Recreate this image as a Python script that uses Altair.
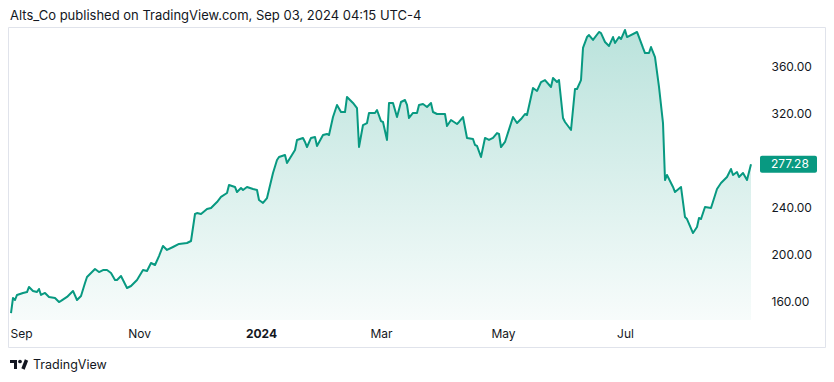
import altair as alt
import pandas as pd

# ---- data ----
dates = [
    "2023-08-29", "2023-08-30", "2023-08-31", "2023-09-01", "2023-09-04", "2023-09-06",
    "2023-09-07", "2023-09-09", "2023-09-11", "2023-09-12", "2023-09-13", "2023-09-15",
    "2023-09-17", "2023-09-20", "2023-09-22", "2023-09-23", "2023-09-26", "2023-09-29",
    "2023-10-01", "2023-10-03", "2023-10-05", "2023-10-06", "2023-10-08", "2023-10-10",
    "2023-10-12", "2023-10-14", "2023-10-16", "2023-10-18", "2023-10-20", "2023-10-21",
    "2023-10-23", "2023-10-26", "2023-10-28", "2023-10-31", "2023-11-03", "2023-11-05",
    "2023-11-07", "2023-11-09", "2023-11-11", "2023-11-13", "2023-11-15", "2023-11-18",
    "2023-11-21", "2023-11-25", "2023-11-27", "2023-11-29", "2023-11-30", "2023-12-02",
    "2023-12-05", "2023-12-07", "2023-12-10", "2023-12-12", "2023-12-15", "2023-12-16",
    "2023-12-19", "2023-12-20", "2023-12-22", "2023-12-23", "2023-12-25", "2023-12-28",
    "2023-12-30", "2023-12-31", "2024-01-02", "2024-01-04", "2024-01-07", "2024-01-09",
    "2024-01-10", "2024-01-13", "2024-01-14", "2024-01-18", "2024-01-19", "2024-01-22",
    "2024-01-23", "2024-01-24", "2024-01-26", "2024-01-28", "2024-01-29", "2024-02-01",
    "2024-02-03", "2024-02-04", "2024-02-06", "2024-02-08", "2024-02-10", "2024-02-12",
    "2024-02-13", "2024-02-16", "2024-02-18", "2024-02-19", "2024-02-21", "2024-02-23",
    "2024-02-24", "2024-02-27", "2024-02-28", "2024-03-01", "2024-03-02", "2024-03-04",
    "2024-03-05", "2024-03-07", "2024-03-09", "2024-03-11", "2024-03-13", "2024-03-14",
    "2024-03-15", "2024-03-17", "2024-03-19", "2024-03-20", "2024-03-22", "2024-03-24",
    "2024-03-26", "2024-03-27", "2024-03-29", "2024-04-02", "2024-04-03", "2024-04-05",
    "2024-04-08", "2024-04-09", "2024-04-11", "2024-04-13", "2024-04-16", "2024-04-17",
    "2024-04-18", "2024-04-20", "2024-04-22", "2024-04-24", "2024-04-26", "2024-04-28",
    "2024-04-29", "2024-04-30", "2024-05-02", "2024-05-06", "2024-05-08", "2024-05-10",
    "2024-05-12", "2024-05-13", "2024-05-16", "2024-05-18", "2024-05-20", "2024-05-22",
    "2024-05-25", "2024-05-26", "2024-05-28", "2024-05-29", "2024-05-31", "2024-06-01",
    "2024-06-04", "2024-06-06", "2024-06-07", "2024-06-09", "2024-06-10", "2024-06-12",
    "2024-06-13", "2024-06-15", "2024-06-18", "2024-06-19", "2024-06-21", "2024-06-23",
    "2024-06-25", "2024-06-26", "2024-06-28", "2024-06-29", "2024-07-01", "2024-07-02",
    "2024-07-07", "2024-07-08", "2024-07-10", "2024-07-11", "2024-07-13", "2024-07-14",
    "2024-07-16", "2024-07-18", "2024-07-20", "2024-07-21", "2024-07-22", "2024-07-25",
    "2024-07-26", "2024-07-29", "2024-07-31", "2024-08-01", "2024-08-04", "2024-08-06",
    "2024-08-07", "2024-08-08", "2024-08-10", "2024-08-13", "2024-08-16", "2024-08-18",
    "2024-08-20", "2024-08-21", "2024-08-23", "2024-08-24", "2024-08-26", "2024-08-27",
    "2024-08-29", "2024-08-31", "2024-09-02",
]
prices = [
    150.6, 163.4, 161.7, 166.0, 167.7, 168.5,
    172.8, 169.4, 168.5, 171.1, 166.0, 167.7,
    164.3, 163.4, 160.0, 160.9, 164.3, 169.4,
    161.7, 165.1, 176.2, 181.3, 184.7, 188.1,
    185.5, 187.2, 187.2, 184.7, 178.7, 178.7,
    182.1, 171.9, 173.6, 178.7, 187.2, 186.4,
    193.2, 191.5, 199.1, 207.7, 204.3, 206.8,
    209.4, 210.2, 211.9, 234.9, 235.7, 234.9,
    239.1, 240.0, 245.1, 249.4, 252.8, 259.6,
    257.9, 253.6, 257.0, 255.3, 257.9, 256.2,
    255.3, 246.8, 244.3, 248.5, 269.8, 280.9,
    283.4, 285.1, 278.3, 289.4, 297.9, 299.6,
    296.2, 291.9, 299.6, 300.4, 292.8, 302.1,
    303.0, 302.1, 317.4, 327.7, 321.7, 321.7,
    334.5, 329.4, 325.1, 291.9, 310.6, 312.3,
    320.9, 320.9, 323.4, 314.0, 313.2, 297.9,
    329.4, 329.4, 317.4, 330.2, 331.9, 327.7,
    316.6, 320.9, 320.9, 327.7, 328.5, 326.0,
    329.4, 321.7, 320.0, 320.0, 309.8, 314.9,
    311.5, 313.2, 317.4, 299.6, 298.7, 293.6,
    292.8, 283.4, 299.6, 297.9, 299.6, 303.8,
    303.0, 291.9, 296.2, 317.4, 312.3, 315.7,
    320.0, 319.1, 342.1, 339.6, 347.2, 348.9,
    343.0, 350.6, 347.2, 348.9, 316.6, 313.2,
    306.4, 341.3, 341.3, 348.9, 376.2, 385.5,
    387.2, 383.0, 389.8, 388.9, 381.3, 377.9,
    385.5, 380.4, 385.5, 383.8, 391.5, 385.5,
    389.8, 385.5, 376.2, 371.9, 371.9, 377.0,
    368.5, 343.0, 312.3, 263.8, 268.1, 257.9,
    253.6, 257.9, 232.3, 230.6, 218.7, 223.8,
    231.5, 230.6, 240.9, 240.0, 256.2, 261.3,
    264.7, 266.4, 273.2, 268.1, 270.6, 266.4,
    269.8, 263.8, 277.28,
]
y_ticks = [160, 200, 240, 320, 360]
x_ticks = [(2023, 9), (2023, 11), (2024, 1), (2024, 3), (2024, 5), (2024, 7)]
header = "Alts_Co published on TradingView.com, Sep 03, 2024 04:15 UTC-4"
brand = "TradingView"

df = pd.DataFrame({"date": dates, "price": prices})
last = df.tail(1)
one = pd.DataFrame({"k": [0]})

W, H = 746, 292
Y_MIN, Y_MAX = 144.68, 393.19
GREEN = "#089981"
TXT = "#131722"
FONT = "Inter"
BORDER = "#e0e3eb"

x_scale = alt.Scale(
    type="utc",
    domain=[alt.DateTime(year=2023, month=8, date=28, utc=True),
            alt.DateTime(year=2024, month=9, date=4, utc=True)],
)
x_axis = alt.Axis(
    values=[alt.DateTime(year=y, month=m, date=1, utc=True) for y, m in x_ticks],
    labelExpr="utcmonth(datum.value) == 0 ? utcFormat(datum.value, '%Y') : utcFormat(datum.value, '%b')",
    labelFontWeight={"condition": {"test": "utcmonth(datum.value) == 0", "value": "bold"}, "value": "normal"},
    labelOffset={"condition": {"test": "utcmonth(datum.value) == 8", "value": 4}, "value": 0},
    labelBound=False, labelFlush=False, labelOverlap=False,
    title=None, grid=False, ticks=False, domain=False, labelPadding=8,
    labelFont=FONT, labelFontSize=12, labelColor=TXT,
)
y_scale = alt.Scale(domain=[Y_MIN, Y_MAX], nice=False, zero=False)
y_axis = alt.Axis(
    orient="right", values=y_ticks, format=".2f", title=None, grid=False,
    ticks=False, domain=False, labelPadding=16, labelFont=FONT,
    labelFontSize=12, labelColor=TXT, labelAlign="left",
)

X = alt.X("date:T", scale=x_scale, axis=x_axis)
Y = alt.Y("price:Q", scale=y_scale, axis=y_axis)

area = alt.Chart(df).mark_area(
    color=alt.Gradient(
        gradient="linear",
        stops=[alt.GradientStop(color="rgba(8,153,129,0.28)", offset=0),
               alt.GradientStop(color="rgba(8,153,129,0.03)", offset=1)],
        x1=1, x2=1, y1=0, y2=1,
    )
).encode(x=X, y=Y, y2=alt.datum(Y_MIN))

line = alt.Chart(df).mark_line(color=GREEN, strokeWidth=2, strokeJoin="round").encode(x=X, y=Y)

tag = alt.Chart(last).mark_rect(color=GREEN, yOffset=-8.5, y2Offset=8.5, cornerRadius=2).encode(
    x=alt.value(751), x2=alt.value(808), y=alt.Y("price:Q", scale=y_scale), y2="price:Q"
)
tag_text = alt.Chart(last).mark_text(
    align="left", baseline="middle", font=FONT, fontSize=12, color="white"
).encode(x=alt.value(762), y=alt.Y("price:Q", scale=y_scale), text=alt.Text("price:Q", format=".2f"))

border = alt.Chart(one).mark_rect(fillOpacity=0, stroke=BORDER, strokeWidth=1).encode(
    x=alt.value(-0.5), x2=alt.value(816.5), y=alt.value(-0.5), y2=alt.value(319.5)
)

head = alt.Chart(one).mark_text(
    align="left", baseline="alphabetic", font=FONT, fontSize=13, color=TXT
).encode(x=alt.value(1), y=alt.value(-8), text=alt.value(header))

brand_text = alt.Chart(one).mark_text(
    align="left", baseline="middle", font=FONT, fontSize=12.5, color=TXT
).encode(x=alt.value(24), y=alt.value(337), text=alt.value(brand))

logo_a = alt.Chart(one).mark_rect(color=TXT).encode(
    x=alt.value(1), x2=alt.value(8), y=alt.value(332), y2=alt.value(335)
)
logo_b = alt.Chart(one).mark_rect(color=TXT).encode(
    x=alt.value(5), x2=alt.value(8), y=alt.value(332), y2=alt.value(341)
)
logo_c = alt.Chart(one).mark_point(color=TXT, filled=True, size=14, opacity=1).encode(
    x=alt.value(11), y=alt.value(333.5)
)
logo_d = alt.Chart(one).mark_rule(color=TXT, strokeWidth=3.5).encode(
    x=alt.value(17.5), x2=alt.value(14), y=alt.value(332), y2=alt.value(341)
)

chart = alt.layer(
    border, area, line, tag, tag_text, head, brand_text, logo_a, logo_b, logo_c, logo_d
).properties(
    width=W, height=H,
    autosize=alt.AutoSizeParams(type="none"),
    padding={"left": 1, "top": 20, "right": 71, "bottom": 54},
    background="white",
).configure_view(stroke=None)

chart.save("out.html", embed_options={"renderer": "svg", "actions": False})
